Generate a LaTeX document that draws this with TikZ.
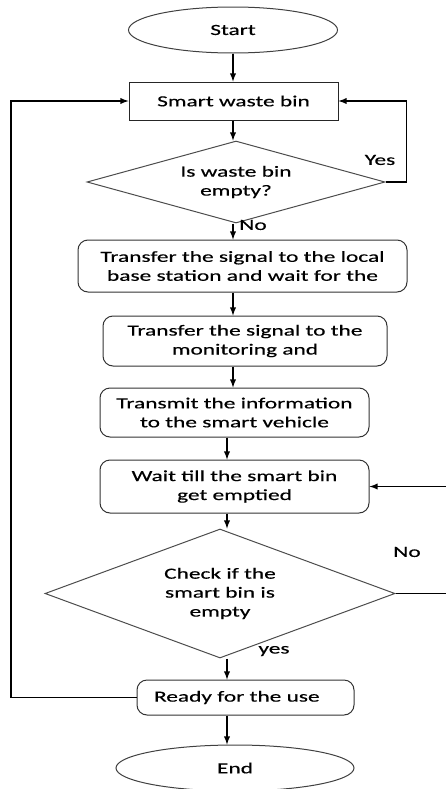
\documentclass[tikz,border=0pt]{standalone}
\usepackage{fontspec}
\setmainfont{Carlito}[FakeStretch=1.51, FakeBold=0.4]
\usepackage{tikz}
\usetikzlibrary{arrows, shapes.geometric}
\tikzset{
every picture/.style={line width=0.75pt},
txt/.style={font=\fontsize{11.6pt}{14.2pt}\selectfont, align=center, inner sep=0pt},
term/.style={txt, ellipse, draw=black!75},
procbox/.style={txt, rectangle, draw=black!85},
roundbox/.style={txt, rectangle, rounded corners=7.5pt, draw=black!80},
decision/.style={txt, diamond, draw=black!70},
flow/.style={-latex, line width=1.1pt}
}
\begin{document}
\begin{tikzpicture}[x=0.75pt, y=-0.75pt]
    \useasboundingbox (0,0) rectangle (446,789);
    \node[term, minimum width=156.75pt, minimum height=34.5pt] (start) at (233,30) {Start};
    \node[procbox, minimum width=156.75pt, minimum height=28.5pt] (bin) at (233.5,101) {Smart waste bin};
    \node[decision, aspect=3.63, minimum width=223.5pt, minimum height=61.5pt] (dia1) at (236,182) {Is waste bin\\empty?};
    \node[roundbox, minimum width=246.75pt, minimum height=39pt] (sig1) at (242.5,266) {Transfer the signal to the local\\base station and wait for the};
    \node[roundbox, minimum width=213pt, minimum height=37.5pt] (sig2) at (245,341) {Transfer the signal to the\\monitoring and};
    \node[roundbox, minimum width=201.75pt, minimum height=36.75pt] (trans) at (234.5,412.5) {Transmit the information\\to the smart vehicle};
    \node[roundbox, minimum width=201.75pt, minimum height=39.75pt] (wait) at (234.5,486.5) {Wait till the smart bin\\get emptied};
    \node[decision, aspect=2.71, minimum width=262.5pt, minimum height=96.75pt] (dia2) at (220,593.5) {Check if the\\smart bin is\\empty};
    \node[roundbox, minimum width=162.75pt, minimum height=26.25pt] (ready) at (245.5,697.5) {Ready for the use\hspace*{13pt}};
    \node[term, minimum width=178.5pt, minimum height=34.5pt] (fin) at (235,768) {End};

    \node[txt] (yes1) at (380,160) {Yes};
    \node[txt] (no1) at (253,225) {No};
    \node[txt] (no2) at (407,552) {No};
    \node[txt] (yes2) at (274,651) {yes};

    \coordinate (top) at (233,0);
    \coordinate (low) at (227,0);
    \coordinate (lft) at (11,0);
    \coordinate (rgt) at (452,0);

    \draw[flow] (start.south -| top) -- (bin.north -| top);
    \draw[flow] (bin.south -| top) -- (dia1.north -| top);
    \draw[flow] (dia1.south -| top) -- (sig1.north -| top);
    \draw[flow] (sig1.south -| top) -- (sig2.north -| top);
    \draw[flow] (sig2.south -| top) -- (trans.north -| top);
    \draw[flow] (trans.south -| low) -- (wait.north -| low);
    \draw[flow] (wait.south -| low) -- (dia2.north -| low);
    \draw[flow] (dia2.south -| low) -- (ready.north -| low);
    \draw[flow] (ready.south -| low) -- (fin.north -| low);
    \draw[flow] (dia1.east) -- ++(21,0) |- (bin.east);
    \draw[flow] (ready.west) -- (ready.west -| lft) |- (bin.west);
    \draw[flow] (dia2.east) -- (dia2.east -| rgt) |- (wait.east);
  \end{tikzpicture}
\end{document}
